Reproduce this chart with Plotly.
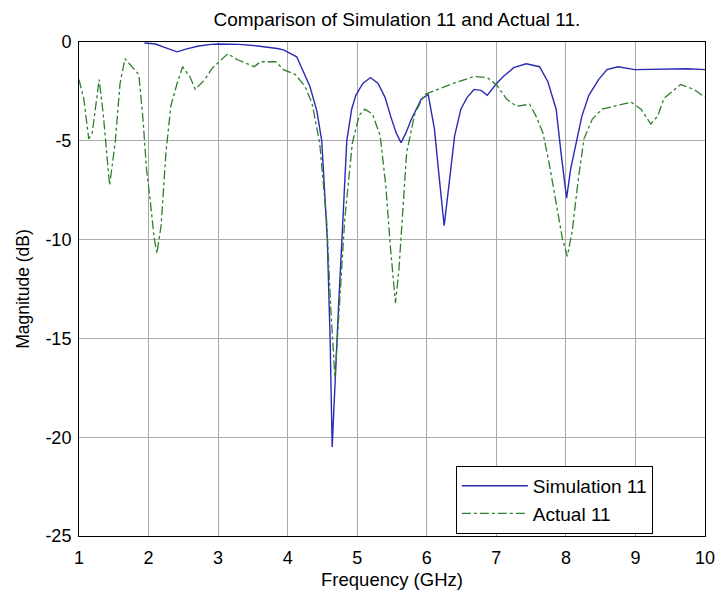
import plotly.graph_objects as go

# Simulated S11 (dB) vs frequency (GHz)
sim_freq = [1.94, 2.1, 2.25, 2.41, 2.55, 2.72, 2.9, 3.0, 3.3, 3.57, 3.85, 3.94, 4.13,
            4.32, 4.42, 4.49, 4.57, 4.61, 4.64, 4.68, 4.73, 4.78, 4.85, 4.92, 4.98,
            5.08, 5.19, 5.3, 5.4, 5.48, 5.56, 5.63, 5.7, 5.78, 5.92, 6.02, 6.11, 6.18,
            6.25, 6.33, 6.40, 6.49, 6.58, 6.68, 6.78, 6.87, 6.99, 7.1, 7.25, 7.43,
            7.62, 7.74, 7.86, 7.93, 8.01, 8.07, 8.14, 8.23, 8.33, 8.47, 8.59, 8.75,
            8.99, 9.25, 9.51, 9.75, 10.0]
sim_db = [-0.05, -0.1, -0.3, -0.5, -0.35, -0.2, -0.12, -0.1, -0.12, -0.2, -0.33, -0.4, -0.75,
          -2.25, -3.5, -5.0, -10.0, -15.0, -20.5, -17.0, -13.5, -10.0, -5.0, -3.4, -2.7,
          -2.1, -1.8, -2.1, -2.8, -3.75, -4.6, -5.1, -4.6, -3.9, -2.9, -2.65, -4.4, -6.9,
          -9.3, -6.9, -4.75, -3.4, -2.8, -2.4, -2.45, -2.7, -2.15, -1.75, -1.3, -1.1,
          -1.25, -2.0, -3.4, -5.6, -7.9, -6.4, -5.3, -3.75, -2.7, -1.9, -1.4, -1.25,
          -1.4, -1.38, -1.35, -1.35, -1.4]

# Measured S11 (dB) vs frequency (GHz)
act_freq = [1.0, 1.07, 1.14, 1.19, 1.29, 1.35, 1.44, 1.52, 1.59, 1.66, 1.75, 1.86, 1.92,
            1.97, 2.02, 2.08, 2.12, 2.18, 2.25, 2.32, 2.41, 2.49, 2.6, 2.67, 2.81, 2.92,
            3.14, 3.28, 3.52, 3.61, 3.83, 3.94, 4.11, 4.25, 4.35, 4.46, 4.56, 4.62, 4.68,
            4.73, 4.78, 4.82, 4.93, 5.03, 5.11, 5.22, 5.33, 5.41, 5.48, 5.55, 5.6, 5.64,
            5.71, 5.83, 5.97, 6.16, 6.4, 6.68, 6.87, 7.01, 7.15, 7.29, 7.48, 7.57, 7.67,
            7.76, 7.86, 7.95, 8.02, 8.09, 8.18, 8.26, 8.38, 8.52, 8.75, 8.94, 9.08, 9.22,
            9.32, 9.41, 9.65, 9.84, 10.0]
act_db = [-1.9, -2.9, -4.9, -4.6, -1.9, -3.7, -7.25, -5.1, -2.1, -0.85, -1.2, -1.65, -3.9,
          -6.4, -7.9, -9.9, -10.7, -9.3, -5.6, -3.25, -2.1, -1.25, -1.8, -2.4, -1.9, -1.3,
          -0.6, -0.9, -1.25, -1.0, -1.0, -1.4, -1.65, -2.25, -3.1, -5.1, -9.0, -13.5, -17.0,
          -14.0, -11.0, -9.0, -5.1, -3.7, -3.4, -3.65, -4.75, -7.25, -10.5, -13.2, -11.5, -9.2,
          -5.6, -3.6, -2.65, -2.4, -2.07, -1.75, -1.8, -2.2, -2.9, -3.25, -3.15, -3.75, -4.6,
          -6.15, -8.25, -9.95, -10.85, -9.6, -6.9, -4.9, -3.9, -3.4, -3.2, -3.05, -3.4, -4.15,
          -3.75, -2.85, -2.15, -2.4, -2.8]

x_ticks = [1, 2, 3, 4, 5, 6, 7, 8, 9, 10]
y_ticks = [0, -5, -10, -15, -20, -25]

FONT = "Liberation Sans, Arial, sans-serif"

fig = go.Figure()
fig.add_trace(go.Scatter(
    x=sim_freq, y=sim_db, mode="lines", name="Simulation 11",
    line=dict(color="#2a2ab4", width=1.4),
))
fig.add_trace(go.Scatter(
    x=act_freq, y=act_db, mode="lines", name="Actual 11",
    line=dict(color="#2d7f2d", width=1.3, dash="dashdot"),
))

fig.update_layout(
    width=727, height=599,
    margin=dict(l=79, r=12, t=42, b=58),
    paper_bgcolor="white", plot_bgcolor="white",
    font=dict(family=FONT, size=18, color="black"),
    title=dict(
        text="Comparison of Simulation 11 and Actual 11.",
        x=0.546, xanchor="center", xref="container",
        y=0.968, yanchor="middle", yref="container",
        font=dict(size=19),
    ),
    showlegend=True,
    legend=dict(
        x=0.602, y=0.142, xanchor="left", yanchor="top",
        bgcolor="white", bordercolor="black", borderwidth=1,
        font=dict(size=19), itemwidth=66, tracegroupgap=0,
    ),
)

fig.update_xaxes(
    range=[1, 10], tickvals=x_ticks, ticktext=[str(v) for v in x_ticks],
    showgrid=True, gridcolor="#aaaaaa", gridwidth=1,
    showline=True, linecolor="black", linewidth=1, mirror=True,
    zeroline=False, ticks="", ticklabelstandoff=5,
    title=dict(text="Frequency (GHz)", standoff=6, font=dict(size=18.5)),
)
fig.update_yaxes(
    range=[-25, 0], tickvals=y_ticks, ticktext=[str(v) for v in y_ticks],
    showgrid=True, gridcolor="#aaaaaa", gridwidth=1,
    showline=True, linecolor="black", linewidth=1, mirror=True,
    zeroline=False, ticks="", ticklabelstandoff=3,
    title=dict(text="Magnitude (dB)", standoff=11, font=dict(size=17.5)),
)

fig.write_html("out.html")
